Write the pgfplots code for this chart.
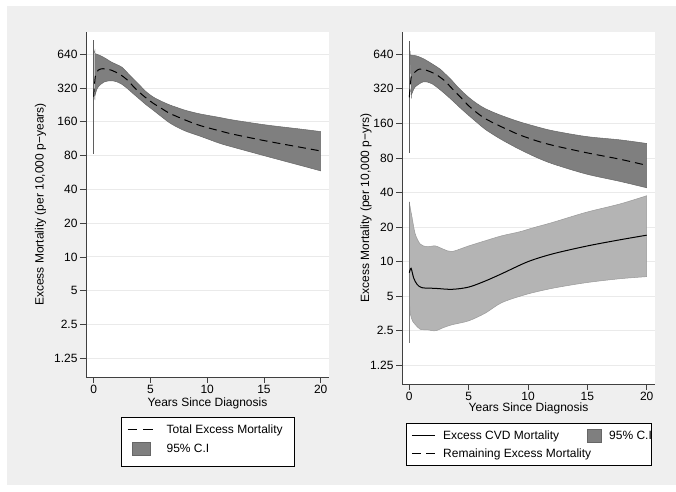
\documentclass[border=0pt]{standalone}
\usepackage{pgfplots}
\pgfplotsset{compat=1.18}
\usepackage{fontspec}
\setmainfont{Liberation Sans}
\definecolor{bgc}{HTML}{EFEFEF}
\definecolor{bandD}{HTML}{7F7F7F}
\definecolor{bandL}{HTML}{B4B4B4}
\definecolor{gridc}{HTML}{EAEAEA}
\newcommand{\fs}{\fontsize{12bp}{14.4bp}\selectfont}
\begin{document}
\begin{tikzpicture}
\useasboundingbox (0,0) rectangle (676bp,-492bp);
\fill[white] (0,0) rectangle (676bp,-492bp);
\fill[bgc] (7bp,-6bp) rectangle (676bp,-485bp);

% ---------------- left panel ----------------
\begin{axis}[
  scale only axis,
  ymode=log,
  axis lines*=left,
  axis line style={line width=0.8bp, black!75},
  xtick={0,5,10,15,20}, xticklabels={0,5,10,15,20},
  ytick={1.25,2.5,5,10,20,40,80,160,320,640},
  yticklabels={1.25,2.5,5,10,20,40,80,160,320,640},
  yminorticks=false, xminorticks=false,
  tick align=outside, major tick length=6bp,
  tick style={line width=0.8bp, black!75},
  ymajorgrids,
  grid style={line width=0.9bp, gridc},
  axis background/.style={fill=white},
  ticklabel style={font=\fs},
  label style={font=\fs},
  xlabel={Years Since Diagnosis},
  xticklabel style={inner ysep=2bp},
  yticklabel style={inner xsep=2.3bp},
  legend cell align=left,
  legend style={draw=black, line width=0.8bp, fill=white, inner ysep=0bp,
    row sep=0bp, column sep=0bp,
    nodes={inner sep=0bp, text height=8.6bp, text depth=0bp, font=\fs}},
  at={(86bp,-377bp)}, anchor=south west,
  width=243bp, height=345bp,
  xmin=-0.678, xmax=20.73, ymin=0.851, ymax=1011,
  ylabel={Excess Mortality (per 10,000 p−years)},
  ylabel style={at={(axis description cs:-0.187,0.5)}, anchor=center},
  xlabel style={at={(axis description cs:0.5,-0.0861)}, anchor=base},
  legend style={at={(axis description cs:0.144,-0.1151)}, anchor=north west, inner xsep=5.7bp}]
\addlegendimage{legend image code/.code={\path[draw=none, fill=none] (0bp,-6bp) rectangle (39bp,12bp);
  \draw[black, line width=1bp, dash pattern=on 9.5bp off 6bp] (0bp,0bp) -- (25bp,0bp);}}
\addlegendentry{\makebox[121.9bp][l]{Total Excess Mortality}}
\addlegendimage{legend image code/.code={\path[draw=none, fill=none] (0bp,-17.7bp) rectangle (39bp,13.3bp);
  \filldraw[fill=bandD, draw=bandD!80!black, line width=0.5bp] (5bp,-6.35bp) rectangle (23bp,6.35bp);}}
\addlegendentry{\makebox[121.9bp][l]{95\% C.I}}

% band: upper edge from t=20 back to t=0.1, then lower edge from t=0.1 to t=20
\addplot[fill=bandD, draw=bandD!80!black, line width=0.5bp, smooth, forget plot] coordinates {
(20,131) (18.2,138) (15.2,150) (12.3,166) (11.1,175) (9.4,188) (8.2,201) (7.5,212)
(6.72,226) (6.0,243) (5.25,266) (4.6,298) (4.08,337) (3.5,386) (3.0,435) (2.5,490)
(2.0,520) (1.5,550) (1.0,592) (0.5,628) (0.25,642) (0.1,650) (0.1,650)
(0.1,270) (0.1,270) (0.22,300) (0.4,328) (0.9,362) (1.5,372) (2.0,365) (2.5,345)
(3.0,315) (3.5,284) (4.08,253) (4.6,228) (5.25,203) (6.0,177) (6.72,156) (7.5,141)
(8.2,131) (9.4,119) (11.1,103) (12.3,95) (15.2,79) (18.2,65.5) (20,58.5)} -- cycle;
\addplot[bandD!75!black, line width=1bp, forget plot] coordinates {(0,854) (0,82)};
\addplot[black, line width=1bp, smooth, dash pattern=on 8bp off 5bp, forget plot] coordinates {
(0,268) (0.14,404) (0.4,462) (0.8,476) (1.3,470) (1.6,460) (2.3,425) (3.0,375)
(3.5,330) (4.08,290) (4.6,262) (5.25,234) (6.0,210) (6.72,190) (8.2,164) (9.4,148)
(11.1,133) (12.3,124) (15.2,108) (18.2,95) (20,88)};
\end{axis}

% ---------------- right panel ----------------
\begin{axis}[
  scale only axis,
  ymode=log,
  axis lines*=left,
  axis line style={line width=0.8bp, black!75},
  xtick={0,5,10,15,20}, xticklabels={0,5,10,15,20},
  ytick={1.25,2.5,5,10,20,40,80,160,320,640},
  yticklabels={1.25,2.5,5,10,20,40,80,160,320,640},
  yminorticks=false, xminorticks=false,
  tick align=outside, major tick length=6bp,
  tick style={line width=0.8bp, black!75},
  ymajorgrids,
  grid style={line width=0.9bp, gridc},
  axis background/.style={fill=white},
  ticklabel style={font=\fs},
  label style={font=\fs},
  xlabel={Years Since Diagnosis},
  xticklabel style={inner ysep=2bp},
  yticklabel style={inner xsep=2.3bp},
  legend cell align=left,
  legend style={draw=black, line width=0.8bp, fill=white, inner ysep=0bp,
    row sep=0bp, column sep=0bp,
    nodes={inner sep=0bp, text height=8.6bp, text depth=0bp, font=\fs}},
  at={(402bp,-384bp)}, anchor=south west,
  width=253bp, height=352bp,
  xmin=-0.615, xmax=20.70, ymin=0.859, ymax=1001,
  ylabel={Excess Mortality (per 10,000 p−yrs)},
  ylabel style={at={(axis description cs:-0.142,0.5)}, anchor=center},
  xlabel style={at={(axis description cs:0.5,-0.0787)}, anchor=base},
  legend columns=2,
  legend style={at={(axis description cs:0.01462,-0.1116)}, anchor=north west, inner xsep=5.3bp}]
\addlegendimage{legend image code/.code={\path[draw=none, fill=none] (0bp,-7bp) rectangle (31.3bp,11.7bp);
  \draw[black, line width=1bp] (0bp,0bp) -- (23.3bp,0bp);}}
\addlegendentry{\makebox[137.7bp][l]{Excess CVD Mortality}}
\addlegendimage{legend image code/.code={\path[draw=none, fill=none] (0bp,-7bp) rectangle (28.3bp,11.7bp);
  \filldraw[fill=bandD, draw=bandD!80!black, line width=0.5bp] (6bp,-6.5bp) rectangle (20.7bp,6.5bp);}}
\addlegendentry{\makebox[37bp][l]{95\% C.I}}
\addlegendimage{legend image code/.code={\path[draw=none, fill=none] (0bp,-12bp) rectangle (31.3bp,11.3bp);
  \draw[black, line width=1bp, dash pattern=on 9bp off 5.3bp] (0bp,0bp) -- (23.3bp,0bp);}}
\addlegendentry{\makebox[137.7bp][l]{Remaining Excess Mortality}}

\addplot[fill=bandD, draw=bandD!80!black, line width=0.5bp, smooth, forget plot] coordinates {
(20,107) (17.75,115) (14.9,123) (12.1,138) (10.7,150) (9.3,165) (8.5,176) (7.5,192)
(6.4,215) (5.7,238) (5.0,270) (4.1,330) (3.6,378) (3.0,435) (2.6,475) (2.0,522)
(1.2,585) (0.6,620) (0.25,628) (0.08,632) (0.08,632)
(0.17,282) (0.17,282) (0.3,305) (0.5,333) (1.2,369) (1.9,355) (2.75,305) (3.6,255)
(4.3,218) (5.0,188) (5.7,163) (6.4,142) (7.5,120) (8.5,105) (9.3,95) (10.7,81)
(12.1,71) (14.9,58) (17.75,50) (20,44)} -- cycle;
\addplot[bandD!75!black, line width=1bp, forget plot] coordinates {(0,836) (0,89)};

\addplot[fill=bandL, draw=bandL!85!black, line width=0.5bp, smooth, forget plot] coordinates {
(20,37.5) (17.75,31.8) (14.9,26.9) (12.1,22.0) (10.5,19.8) (9.3,18.2) (7.8,16.8)
(6.4,15.2) (5,13.7) (3.6,12.25) (2.9,12.8) (2.2,13.7) (1.5,13.5) (0.93,14.2)
(0.5,17.4) (0.23,24.3) (0.08,29.5) (0.02,32.0) (0,32.8)
(0,30) (0,24) (0,16) (0,10) (0,6) (0.03,4.2) (0.1,3.45) (0.3,3.0)
(0.5,2.83) (0.93,2.57) (1.5,2.55) (2.2,2.5) (2.9,2.67)
(3.6,2.82) (5,3.05) (6.4,3.56) (7.8,4.4) (9.9,5.2) (12.1,5.87) (14.9,6.56)
(17.75,7.1) (20,7.4)} -- cycle;
\addplot[bandL!70!black, line width=0.8bp, forget plot] coordinates {(0,32.8) (0,1.95)};

\addplot[black, line width=1bp, smooth, dash pattern=on 8bp off 5bp, forget plot] coordinates {
(0,270) (0.15,400) (0.3,430) (0.8,474) (1.35,468) (2.2,430) (3.0,375) (3.6,322)
(4.3,272) (5.0,228) (5.7,198) (6.4,176) (7.5,154) (8.5,138) (9.3,127) (10.7,113)
(12.1,103) (14.9,89) (17.75,78) (20,69)};
\addplot[black, line width=1bp, smooth, forget plot] coordinates {
(0,8.0) (0.15,8.75) (0.37,7.2) (0.65,6.35) (1.07,5.93) (2.2,5.85) (3.6,5.74)
(5,6.0) (6.4,6.78) (7.8,7.86) (10,10.0) (12.1,11.7) (15,13.7) (17.75,15.5) (20,17.0)};
\end{axis}
\end{tikzpicture}
\end{document}
